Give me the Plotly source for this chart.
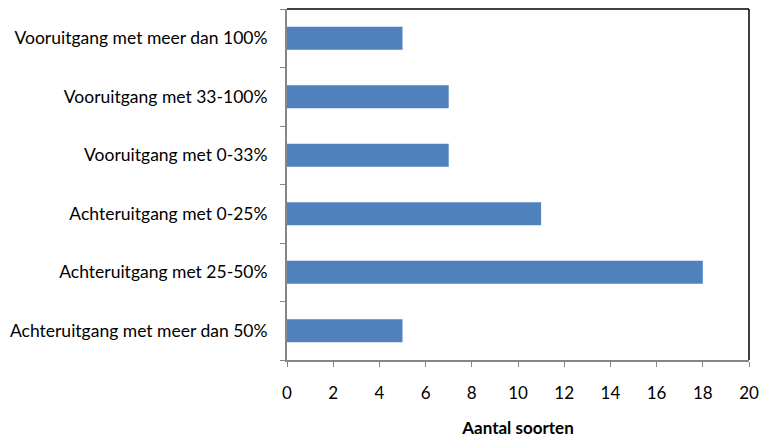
import plotly.graph_objects as go

# Categories listed bottom to top
categories = [
    "Achteruitgang met meer dan 50%",
    "Achteruitgang met 25-50%",
    "Achteruitgang met 0-25%",
    "Vooruitgang met 0-33%",
    "Vooruitgang met 33-100%",
    "Vooruitgang met meer dan 100%",
]
counts = [5, 18, 11, 7, 7, 5]
x_ticks = list(range(0, 21, 2))

font_family = "Lato, Carlito, Calibri, sans-serif"
axis_grey = "#868686"

fig = go.Figure(
    go.Bar(
        x=counts,
        y=categories,
        orientation="h",
        marker=dict(color="#4F81BD", line=dict(width=0)),
        width=0.39,
    )
)

fig.update_layout(
    width=767,
    height=438,
    margin=dict(l=287, r=18, t=9, b=78),
    plot_bgcolor="white",
    paper_bgcolor="white",
    font=dict(family=font_family, size=17, color="black"),
    showlegend=False,
)

fig.update_xaxes(
    range=[0, 20],
    tickvals=x_ticks,
    ticktext=[str(v) for v in x_ticks],
    showgrid=False,
    zeroline=False,
    showline=True,
    linecolor=axis_grey,
    linewidth=2,
    ticks="outside",
    ticklen=5,
    tickcolor=axis_grey,
    tickwidth=1,
    ticklabelstandoff=12,
    tickfont=dict(size=17),
    automargin=False,
    title=dict(text="<b>Aantal soorten</b>", font=dict(size=17), standoff=32),
)

fig.update_yaxes(
    type="category",
    categoryorder="array",
    categoryarray=categories,
    showgrid=False,
    zeroline=False,
    showline=True,
    linecolor=axis_grey,
    linewidth=2,
    ticks="outside",
    ticklen=5,
    tickcolor=axis_grey,
    tickwidth=1,
    tickson="boundaries",
    ticklabelstandoff=14,
    tickfont=dict(size=17.5),
    automargin=False,
)

# Top and right border of the plot area
fig.add_shape(type="line", xref="paper", yref="paper", x0=0, x1=1, y0=1, y1=1,
              line=dict(color="black", width=1.5))
fig.add_shape(type="line", xref="paper", yref="paper", x0=1, x1=1, y0=0, y1=1,
              line=dict(color="black", width=1.5))

fig.write_html("out.html")
